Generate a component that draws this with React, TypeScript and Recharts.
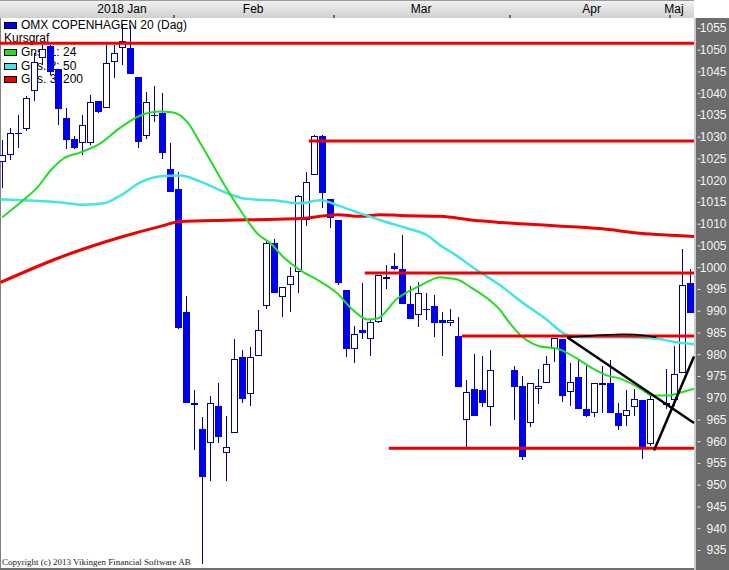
import { ComposedChart, Bar, Line, XAxis, YAxis, ReferenceLine } from "recharts";

const FONT = "'Liberation Sans Narrow', 'Liberation Sans', Arial, sans-serif";

// OMX Copenhagen 20, daily candles (null = no trading that slot)
const open = [
  1024.2, 1025.8, 1031.0, 1031.8, 1040.7, 1048.3, 1050.9, 1045.6, 1034.5, 1029.5,
  1028.6, 1028.6, 1038.4, 1036.8, 1047.2, 1050.4, 1050.5, 1043.8, 1030.2, 1035.1,
  1035.5, 1022.6, 1018.0, 989.9, 968.6, 963.0, 959.6, 968.1, 957.5, 961.9,
  979.4, 970.9, 979.8, 991.3, 1005.6, 993.2, 996.1, 998.9, 1010.9, 1021.4,
  1030.2, 1015.7, 1010.9, 994.8, 981.2, 985.6, 983.7, 987.6, 997.8, 1000.5,
  999.8, 991.6, 989.2, 990.6, 991.1, 987.9, 987.4, 984.4, 965.1, 972.2,
  972.0, 967.9, null, null, 976.4, 972.9, 964.2, 972.2, 973.6, 981.4,
  983.7, 971.5, 974.8, 967.6, 966.5, 973.4, 973.4, 966.5, 965.8, 967.9,
  969.5, 959.4, null, 968.6, 969.5, 975.7, 996.4,
];
const high = [
  1029.3, 1032.0, 1035.0, 1039.4, 1049.3, 1051.1, 1051.3, 1045.6, 1036.6, 1030.2,
  1035.0, 1039.6, 1038.4, 1051.1, 1051.1, 1055.7, 1055.7, 1043.8, 1040.4, 1041.7,
  1040.1, 1028.6, 1022.1, 993.4, 971.8, 965.6, 970.4, 973.6, 965.8, 983.5,
  981.0, 981.7, 990.2, 1006.3, 1006.7, 995.5, 1000.1, 1016.8, 1022.1, 1030.4,
  1030.4, 1015.7, 1011.0, 994.8, 986.7, 996.4, 988.3, 998.4, 1000.7, 1003.3,
  1007.6, 995.9, 996.6, 994.3, 993.8, 989.9, 990.4, 988.6, 974.3, 980.1,
  979.6, 981.0, null, null, 977.5, 975.0, 973.4, 976.8, 979.8, 983.9,
  983.7, 978.0, 978.9, 977.5, 973.4, 977.5, 978.7, 969.0, 971.8, 972.2,
  969.5, 970.6, null, 976.8, 981.9, 1004.2, 999.6,
];
const low = [
  1018.4, 1024.7, 1027.6, 1031.5, 1038.4, 1046.5, 1044.2, 1032.7, 1027.4, 1027.4,
  1025.8, 1028.3, 1035.5, 1036.8, 1043.5, 1046.5, 1044.6, 1027.5, 1029.6, 1033.5,
  1024.9, 1017.4, 986.0, 969.0, 958.2, 932.0, 950.9, 959.6, 950.9, 961.9,
  968.8, 968.3, 979.8, 990.4, 994.1, 988.6, 989.9, 994.1, 1009.7, 1021.4,
  1013.8, 1009.2, 996.0, 979.4, 978.0, 983.7, 979.6, 987.2, 995.2, 999.4,
  991.6, 988.3, 986.3, 987.9, 984.0, 979.8, 986.5, 972.5, 958.7, 966.0,
  967.9, 963.5, null, null, 964.9, 955.7, 963.3, 968.6, 973.6, 978.4,
  969.2, 968.1, 967.6, 965.6, 965.6, 966.7, 966.7, 962.6, 963.7, 965.8,
  956.1, 959.1, null, 967.6, 968.1, 975.7, 989.5,
];
const close = [
  1025.8, 1030.9, 1030.8, 1039.1, 1047.2, 1050.2, 1044.9, 1036.4, 1029.3, 1027.6,
  1032.9, 1038.0, 1035.7, 1047.0, 1049.3, 1052.0, 1044.6, 1028.9, 1038.2, 1035.0,
  1026.4, 1017.4, 986.1, 969.0, 969.0, 951.8, 968.8, 961.0, 958.7, 979.1,
  969.9, 979.4, 985.6, 1005.6, 994.1, 995.5, 998.2, 1016.4, 1019.6, 1030.2,
  1017.1, 1011.5, 996.4, 981.2, 984.7, 985.1, 987.6, 998.4, 997.9, 999.8,
  991.6, 988.3, 994.1, 990.2, 987.4, 987.2, 987.9, 972.5, 971.5, 966.0,
  968.8, 976.4, null, null, 972.5, 956.4, 973.4, 972.7, 977.8, 983.9,
  970.6, 973.8, 967.6, 966.0, 973.4, 973.6, 966.7, 963.5, 967.4, 969.9,
  958.7, 969.9, null, 969.0, 975.5, 996.1, 989.5,
];

// moving averages: [candle position, value]
const ma24 = [
  [0.03, 1011.6], [2.3, 1015.0], [4.4, 1018.4], [6.1, 1022.4], [7.7, 1025.1], [9.8, 1026.5],
  [12.3, 1028.6], [14.8, 1032.2], [17.3, 1035.0], [19.8, 1035.9], [21.4, 1035.7], [23.2, 1033.4],
  [24.8, 1028.6], [28.2, 1017.8], [29.8, 1013.2], [30.65, 1010.9], [31.9, 1007.9], [33.56, 1005.6],
  [35.2, 1002.4], [37.3, 999.4], [39.8, 996.8], [41.9, 994.1], [43.9, 990.2], [45.7, 988.1],
  [46.9, 988.3], [49.4, 992.9], [52.3, 995.9], [54.8, 997.8], [56.1, 997.5], [56.9, 997.3],
  [58.6, 995.5], [60.7, 992.9], [62.3, 990.2], [63.2, 987.9], [65.1, 984.0], [67.3, 981.9],
  [69.4, 981.4], [71.9, 979.1], [73.6, 977.1], [75.7, 975.2], [77.3, 974.5], [79.8, 972.2],
  [81.3, 970.6], [83.2, 970.6], [84.8, 971.3], [86.5, 972.2],
];
const ma50 = [
  [-0.19, 1015.7], [2.7, 1015.5], [7.3, 1015.0], [10.2, 1014.5], [12.7, 1014.8], [14.8, 1016.6],
  [17.3, 1019.6], [19.8, 1021.0], [22.3, 1021.2], [24.8, 1019.8], [28.2, 1017.1], [29.8, 1016.1],
  [31.4, 1015.7], [33.9, 1015.5], [37.3, 1014.8], [39.8, 1015.5], [42.3, 1014.1], [44.8, 1012.5],
  [47.3, 1010.9], [50.7, 1009.0], [53.2, 1007.4], [54.8, 1005.1], [56.4, 1003.3], [59.4, 999.4],
  [62.3, 995.9], [65.2, 991.8], [67.7, 988.6], [70.8, 984.4], [72.3, 984.0], [77.3, 984.0],
  [81.7, 983.7], [83.9, 983.0], [86.5, 982.4],
];
const ma200 = [
  [-0.19, 996.6], [7.3, 1002.4], [14.8, 1007.0], [19.8, 1009.5], [22.3, 1010.6], [28.2, 1010.9],
  [33.2, 1011.1], [37.3, 1011.3], [41.9, 1012.2], [44.8, 1011.8], [47.3, 1012.2], [49.8, 1012.0],
  [54.8, 1011.8], [58.9, 1010.9], [62.3, 1010.4], [68.6, 1009.7], [74.8, 1009.0], [79.8, 1007.9],
  [86.5, 1007.2],
];

// drawn support / resistance levels: [start position, value]
const levels = [[-0.5, 1051.6], [38.35, 1029.1], [45.35, 998.8], [57.5, 984.3], [48.35, 958.5]];
const trendDown = [[70.65, 984.0], [86.5, 964.3]];
const trendUp = [[81.5, 958.0], [86.5, 979.6]];
const arc = [[70.65, 984.0], [74.2, 984.4], [77.7, 984.7], [80.4, 984.4], [81.8, 984.0]];

const priceTicks = [935, 940, 945, 950, 955, 960, 965, 970, 975, 980, 985, 990, 995, 1000,
  1005, 1010, 1015, 1020, 1025, 1030, 1035, 1040, 1045, 1050, 1055];
const months = [
  { label: "2018 Jan", at: 15 }, { label: "Feb", at: 31.4 }, { label: "Mar", at: 52.4 },
  { label: "Apr", at: 73.7 }, { label: "Maj", at: 84 },
];
const monthStarts = [21.5, 41.5, 63.5, 83.5];

const LAST = 86.5;

function Candle(props: any) {
  const { x, width, y, height, payload } = props;
  if (!payload || payload.o == null) return null;
  const { o, h, l, c } = payload;
  const top = Math.min(y, y + height);
  const span = Math.abs(height);
  const k = h > l ? span / (h - l) : 0;
  const py = (v: number) => top + (h - v) * k;
  const cx = x + width / 2;
  const bTop = Math.round(py(Math.max(o, c)));
  const bBot = Math.round(py(Math.min(o, c)));
  const bh = Math.max(bBot - bTop, 1);
  return (
    <g>
      <line x1={cx} x2={cx} y1={Math.round(top)} y2={Math.round(top + span)} stroke="#000080" strokeWidth={1} />
      {c >= o ? (
        <rect x={cx - 3} y={bTop + 0.5} width={6} height={Math.max(bh - 1, 1)} fill="#fff" stroke="#00008c" strokeWidth={1} />
      ) : (
        <rect x={cx - 3.5} y={bTop} width={7} height={bh} fill="#0000f0" />
      )}
    </g>
  );
}

function PriceTick({ y, payload }: any) {
  return (
    <g>
      <line x1={699.5} x2={702.5} y1={y} y2={y} stroke="#e6e6e6" strokeWidth={1} />
      <text x={728.5} y={y + 4} textAnchor="end" fill="#f4f4f4" fontSize={12} fontFamily={FONT}>
        {payload.value}
      </text>
    </g>
  );
}

function MonthTick({ x, payload }: any) {
  const m = months.find((mm) => mm.at === payload.value);
  if (m) {
    return (
      <text x={x} y={13} textAnchor="middle" fill="#000" fontSize={12} fontFamily={FONT}>
        {m.label}
      </text>
    );
  }
  return <line x1={x} x2={x} y1={15} y2={18} stroke="#000" strokeWidth={1} />;
}

const pts = (arr: number[][]) => arr.map(([x, v]) => ({ x, v }));

export default function App() {
  const data = open.map((o, i) => ({
    i, x: i, o, h: high[i], l: low[i], c: close[i],
    range: o == null ? null : [low[i], high[i]],
  }));

  const legendRow = (top: number, color: string, text: string) => (
    <div style={{ position: "absolute", left: 4, top, height: 11, fontSize: 12, lineHeight: "11px", color: "#000", whiteSpace: "nowrap" }}>
      {color && <span style={{ position: "absolute", left: 0, top: 2, width: 11, height: 5, background: color, border: "1px solid #000" }} />}
      <span style={{ position: "absolute", left: color ? 17 : 0, top: 0 }}>{text}</span>
    </div>
  );

  return (
    <div style={{ position: "relative", width: 729, height: 570, overflow: "hidden", background: "#fff", fontFamily: FONT }}>
      <style>{"body{margin:0}"}</style>
      <div style={{ position: "absolute", left: 0, top: 0, width: 694, height: 18, background: "linear-gradient(#f2f2f2, #cfcfcf)", borderTop: "1px solid #9a9a9a", boxSizing: "border-box" }} />
      <div style={{ position: "absolute", left: 694, top: 18, width: 35, height: 552, background: "#6c6c6c", borderLeft: "2px solid #c8c8c8", boxSizing: "border-box" }} />
      <div style={{ position: "absolute", left: 0, top: 18, width: 1, height: 552, background: "#808080" }} />
      <div style={{ position: "absolute", left: 0, top: 568, width: 694, height: 2, background: "#707070" }} />

      {legendRow(20, "#0000f0", "OMX COPENHAGEN 20 (Dag)")}
      {legendRow(33, "", "Kursgraf")}
      {legendRow(47, "#22dd22", "Gns. 1: 24")}
      {legendRow(60.5, "#44e4e4", "Gns. 2: 50")}
      {legendRow(74, "#ee0000", "Gns. 3: 200")}

      <div style={{ position: "absolute", left: -2.5, top: 0 }}>
        <ComposedChart width={731.5} height={570} data={data} margin={{ top: 0, right: 0, bottom: 3, left: 0 }}>
          <XAxis xAxisId="c" dataKey="i" type="category" hide />
          <XAxis
            xAxisId="n" dataKey="x" type="number" orientation="top" height={18}
            domain={[-0.5, LAST]} allowDataOverflow
            ticks={[...months.map((m) => m.at), ...monthStarts]} interval={0}
            axisLine={false} tickLine={false} tick={<MonthTick />}
          />
          <YAxis
            orientation="right" width={35.5} domain={[931.2, 1057.4]} allowDataOverflow
            ticks={priceTicks} interval={0} axisLine={false} tickLine={false} tick={<PriceTick />}
          />
          <Bar xAxisId="c" dataKey="range" barSize={7} shape={<Candle />} isAnimationActive={false} />
          <Line xAxisId="n" data={pts(ma200)} dataKey="v" type="monotone" stroke="#ee0000" strokeWidth={3} dot={false} isAnimationActive={false} />
          <Line xAxisId="n" data={pts(ma50)} dataKey="v" type="monotone" stroke="#44e4e4" strokeWidth={2.5} dot={false} isAnimationActive={false} />
          <Line xAxisId="n" data={pts(ma24)} dataKey="v" type="monotone" stroke="#22dd22" strokeWidth={2} dot={false} isAnimationActive={false} />
          {levels.map(([from, v], idx) => (
            <ReferenceLine
              key={idx} xAxisId="n" ifOverflow="visible" stroke="#ee0000" strokeWidth={3}
              segment={[{ x: from, y: v }, { x: LAST, y: v }]}
            />
          ))}
          <Line xAxisId="n" data={pts(arc)} dataKey="v" type="monotone" stroke="#000" strokeWidth={1.5} dot={false} isAnimationActive={false} />
          <ReferenceLine xAxisId="n" ifOverflow="visible" stroke="#000" strokeWidth={2.5}
            segment={[{ x: trendDown[0][0], y: trendDown[0][1] }, { x: trendDown[1][0], y: trendDown[1][1] }]} />
          <ReferenceLine xAxisId="n" ifOverflow="visible" stroke="#000" strokeWidth={2.5}
            segment={[{ x: trendUp[0][0], y: trendUp[0][1] }, { x: trendUp[1][0], y: trendUp[1][1] }]} />
        </ComposedChart>
      </div>

      <div style={{ position: "absolute", left: 2, top: 557, fontSize: 9, lineHeight: "10px", fontFamily: "'Liberation Serif', serif", color: "#222", whiteSpace: "nowrap" }}>
        Copyright (c) 2013 Vikingen Financial Software AB
      </div>
    </div>
  );
}
